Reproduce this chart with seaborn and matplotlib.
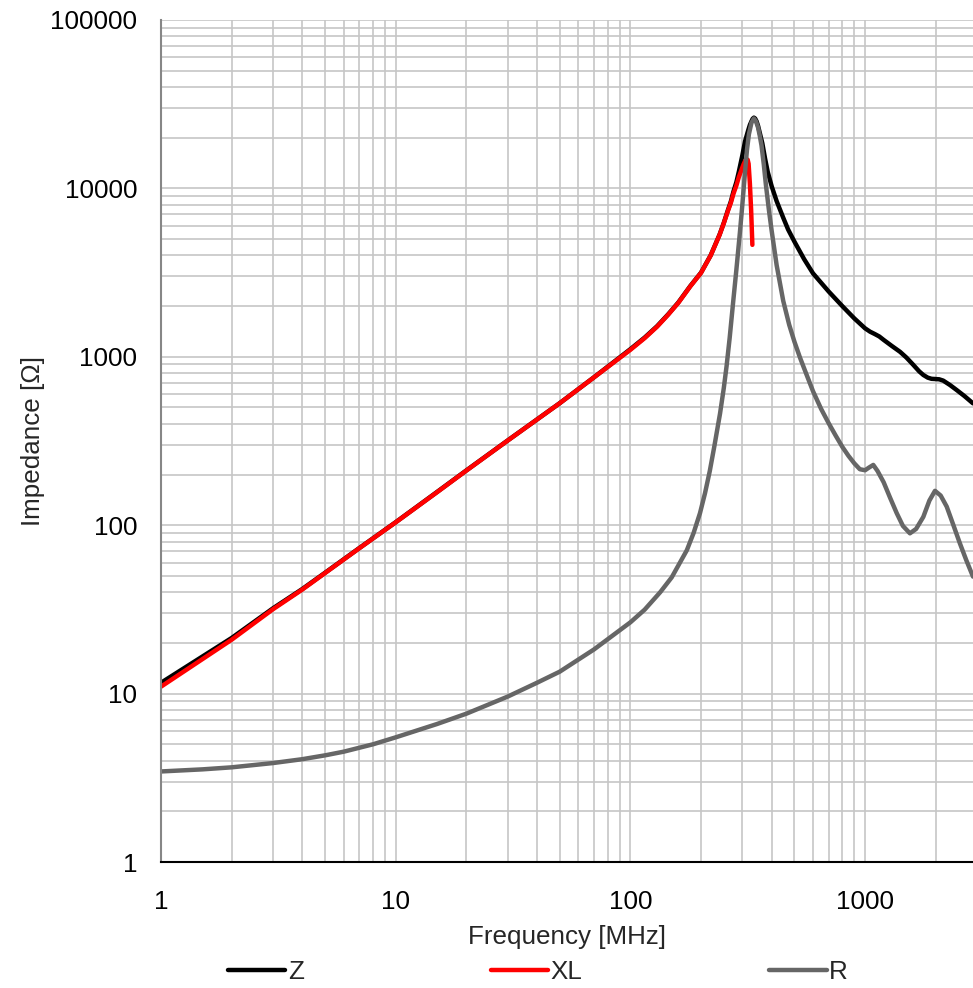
import numpy as np
import matplotlib
matplotlib.use("Agg")
import matplotlib.pyplot as plt
import matplotlib.ticker as ticker
from matplotlib.lines import Line2D
import seaborn as sns
import pandas as pd

# values (frequency in MHz, impedance in ohm)
freq_z = [1, 2, 3, 4, 5, 7, 10, 15, 20, 30, 50, 70, 100, 115, 130, 145, 160, 180, 200, 220,
          240, 250, 260, 268, 275, 283, 290, 300, 308, 318, 323, 328, 332, 336, 340, 345, 350, 357, 365, 375,
          385, 400, 420, 448, 470, 500, 550, 600, 650, 700, 800, 900, 1000, 1050, 1100, 1150, 1200, 1300, 1410, 1500,
          1600, 1700, 1771, 1850, 1920, 1986, 2070, 2153, 2300, 2456, 2650, 2884]
z = [11.6, 21.4, 32.1, 41.8, 52.2, 73.2, 104.2, 157.5, 211.5, 318.5, 530.5, 756, 1110, 1300, 1520, 1790, 2100, 2630, 3160, 4010,
     5320, 6230, 7380, 8360, 9580, 10900, 12600, 15700, 19000, 22200, 23800, 25000, 25900, 26300, 26000, 25000, 23500, 21000, 18500, 15000,
     12500, 10300, 8400, 6700, 5700, 4830, 3800, 3130, 2750, 2440, 2000, 1690, 1476, 1410, 1365, 1320, 1260, 1160, 1070, 990,
     900, 820, 780, 752, 740, 738, 735, 722, 680, 635, 585, 529]

freq_xl = [1, 2, 3, 4, 5, 7, 10, 15, 20, 30, 50, 70, 100, 115, 130, 145, 160, 180, 200, 220,
           240, 250, 260, 268, 275, 283, 290, 300, 304, 308, 313, 316, 319, 323, 327, 331]
xl = [11.0, 20.9, 31.7, 41.5, 52, 73, 104, 157, 211, 318, 530, 755, 1100, 1290, 1510, 1780, 2090, 2620, 3150, 4000,
      5300, 6200, 7300, 8200, 9300, 10400, 11700, 13300, 13950, 14500, 14900, 14800, 14000, 10700, 7450, 4620]

freq_r = [1, 1.5, 2, 3, 4, 5, 6, 8, 10, 15, 20, 30, 40, 50, 70, 100, 115, 134, 150, 174,
          186, 198, 208, 218, 228, 241, 250, 257, 265, 274, 283, 293, 300, 308, 314, 320, 328, 336, 343, 350,
          356, 362, 370, 378, 390, 400, 420, 448, 475, 500, 528, 560, 600, 650, 700, 750, 800, 850, 900, 950,
          1000, 1040, 1084, 1130, 1200, 1280, 1364, 1450, 1553, 1650, 1771, 1880, 1986, 2100, 2228, 2380, 2536, 2700, 2884]
r = [3.45, 3.55, 3.65, 3.87, 4.08, 4.3, 4.52, 5.0, 5.5, 6.6, 7.6, 9.6, 11.6, 13.5, 18.3, 26.5, 31.5, 40, 49, 71,
     90, 118, 155, 210, 295, 460, 650, 880, 1300, 2100, 3300, 5500, 8000, 12500, 17000, 21000, 24500, 26000, 25000, 23000,
     20500, 18000, 14000, 10500, 7300, 5600, 3500, 2150, 1550, 1230, 990, 800, 625, 490, 403, 340, 292, 258, 233, 215,
     212, 220, 228, 210, 180, 145, 118, 99, 89.5, 95, 112, 140, 160, 150, 129, 100, 78, 62, 49.5]

df = pd.concat([
    pd.DataFrame({'f': freq_z, 'v': z, 's': 'Z'}),
    pd.DataFrame({'f': freq_xl, 'v': xl, 's': 'XL'}),
    pd.DataFrame({'f': freq_r, 'v': r, 's': 'R'}),
], ignore_index=True)

colors = {'Z': '#000000', 'XL': '#ff0000', 'R': '#666666'}
fs = 18.7

sns.set_style("white")
plt.rcParams['font.family'] = ['Liberation Sans', 'DejaVu Sans']

fig = plt.figure(figsize=(9.73, 9.88), dpi=100)
ax = fig.add_axes([0.1655, 0.1275, 0.8345, 0.8523])

sns.lineplot(data=df, x='f', y='v', hue='s', palette=colors, estimator=None,
             linewidth=3.2, sort=False, legend=False, ax=ax)
for ln in ax.get_lines():
    ln.set_solid_joinstyle('round')
    ln.set_solid_capstyle('round')

ax.set_xscale('log')
ax.set_yscale('log')
ax.set_xlim(1, 2884)
ax.set_ylim(1, 100000)

fmt = ticker.FuncFormatter(lambda v, p: f"{v:g}")
ax.xaxis.set_major_formatter(fmt)
ax.yaxis.set_major_formatter(fmt)
ax.xaxis.set_minor_formatter(ticker.NullFormatter())
ax.yaxis.set_minor_formatter(ticker.NullFormatter())

ax.grid(True, which='both', color='#c6c6c6', linewidth=1.2)
ax.set_axisbelow(True)

ax.tick_params(which='major', direction='out', length=6, width=1.2, labelsize=fs, colors='#000000')
ax.tick_params(axis='y', which='major', pad=11)
ax.tick_params(axis='x', which='major', pad=14)
ax.tick_params(which='minor', length=0)

for side in ['top', 'right']:
    ax.spines[side].set_visible(False)
ax.spines['left'].set_color('#868686')
ax.spines['left'].set_linewidth(1.5)
ax.spines['bottom'].set_color('#000000')
ax.spines['bottom'].set_linewidth(1.5)

ax.set_xlabel('Frequency [MHz]', fontsize=fs, labelpad=8)
ax.set_ylabel('Impedance [Ω]', fontsize=fs, labelpad=4)

handles = [Line2D([0], [0], color=colors[k], linewidth=3.2) for k in ['Z', 'XL', 'R']]
fig.legend(handles, ['Z', 'XL', 'R'], loc='center', bbox_to_anchor=(538 / 973, 1 - 972 / 988),
           ncol=3, frameon=False, handlelength=2.2, handletextpad=0.1, columnspacing=7.2, fontsize=fs)

fig.savefig('out.png', dpi=100)
